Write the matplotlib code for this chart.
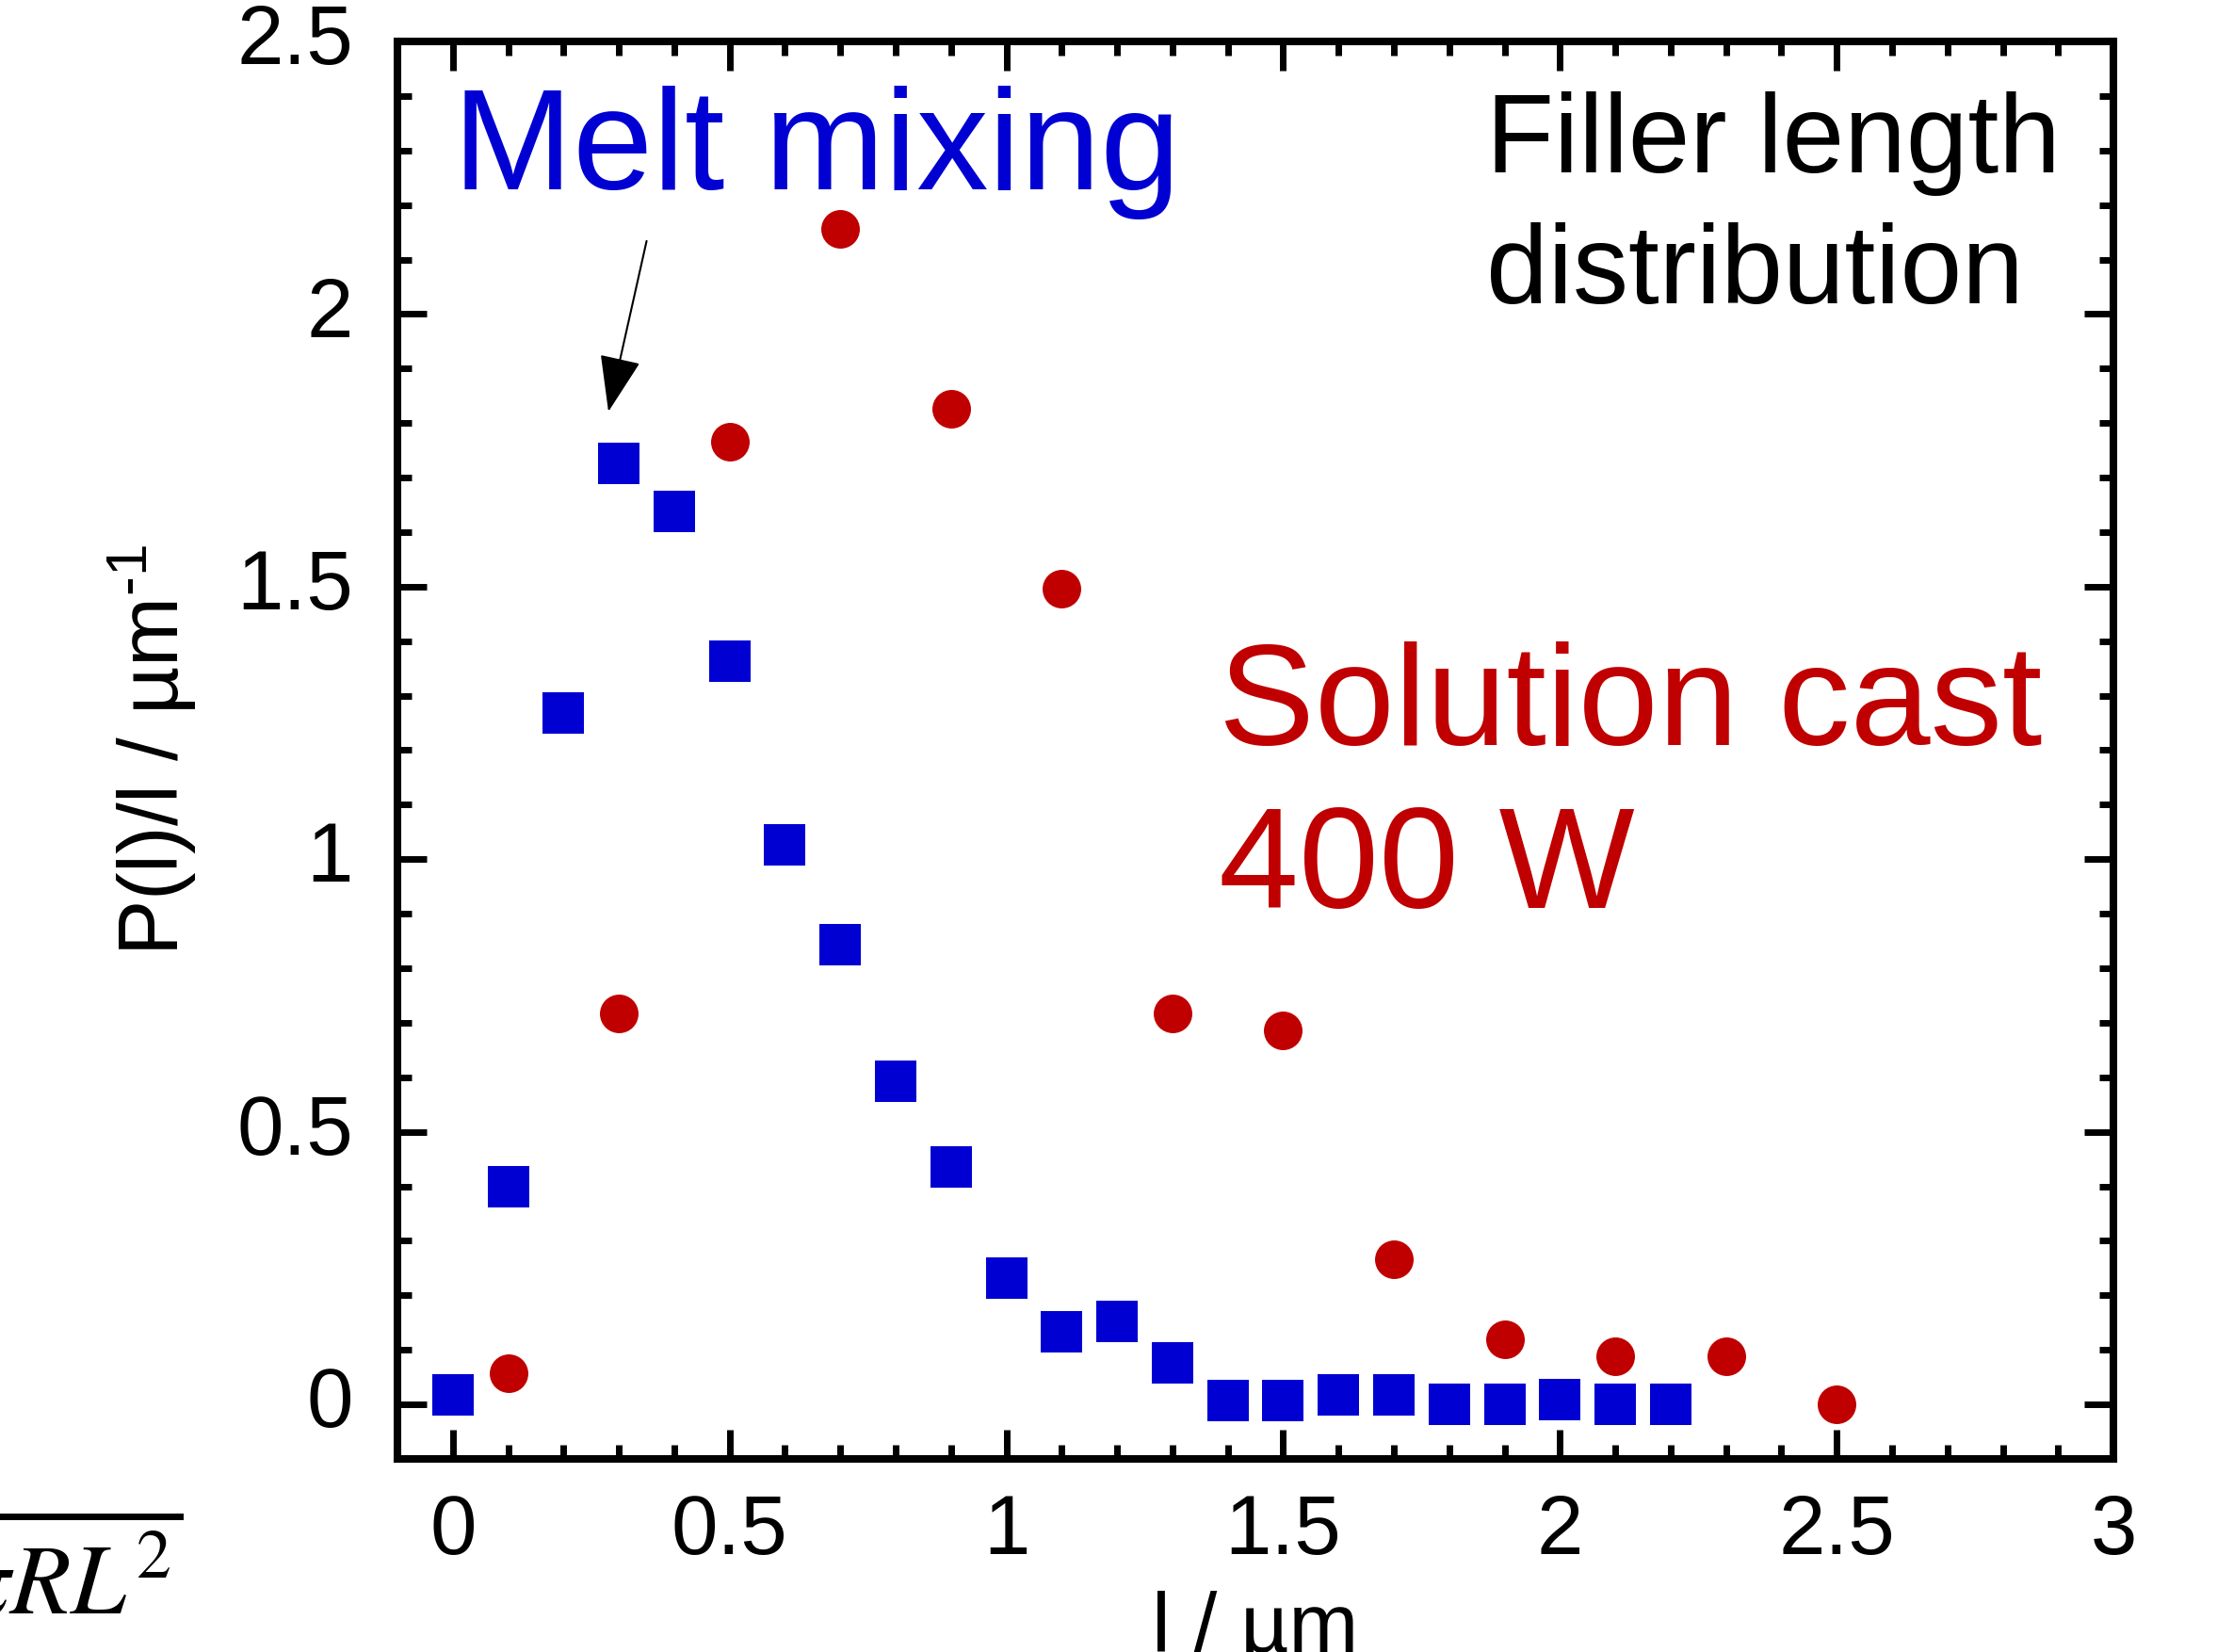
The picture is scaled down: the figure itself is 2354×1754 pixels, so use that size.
import numpy as np
import matplotlib
matplotlib.use('Agg')
import matplotlib.pyplot as plt
from matplotlib.ticker import MultipleLocator, FuncFormatter
from matplotlib.lines import Line2D
from matplotlib.transforms import ScaledTranslation

plt.rcParams['font.family'] = ['Liberation Sans', 'DejaVu Sans']
plt.rcParams['mathtext.fontset'] = 'custom'
plt.rcParams['mathtext.rm'] = 'Liberation Sans'
plt.rcParams['mathtext.it'] = 'Liberation Sans:italic'

# melt mixing (blue squares)
melt_l = [0.0, 0.1, 0.2, 0.3, 0.4, 0.5, 0.6, 0.7, 0.8, 0.9, 1.0, 1.1,
          1.2, 1.3, 1.4, 1.5, 1.6, 1.7, 1.8, 1.9, 2.0, 2.1, 2.2]
melt_p = [0.017, 0.40, 1.268, 1.726, 1.638, 1.364, 1.027, 0.844, 0.593,
          0.435, 0.231, 0.134, 0.153, 0.076, 0.007, 0.007, 0.017, 0.017,
          0.0, 0.0, 0.008, 0.0, 0.0]

# solution cast 400 W (red circles)
cast_l = [0.1, 0.3, 0.5, 0.7, 0.9, 1.1, 1.3, 1.5, 1.7, 1.9, 2.1, 2.3, 2.5]
cast_p = [0.057, 0.717, 1.765, 2.156, 1.827, 1.496, 0.717, 0.686, 0.266,
          0.119, 0.088, 0.088, 0.0]

blue = '#0000D2'
red = '#C00000'

fig = plt.figure(figsize=(23.54, 17.54), dpi=100)
ax = fig.add_axes([0.1793, 0.1169, 0.7740, 0.8580])

ax.plot(melt_l, melt_p, 's', color=blue, ms=31, mew=0, ls='none')
ax.plot(cast_l, cast_p, 'o', color=red, ms=29.5, mew=0, ls='none')

ax.set_xlim(-0.1, 3)
ax.set_ylim(-0.1, 2.5)

ax.xaxis.set_major_locator(MultipleLocator(0.5))
ax.xaxis.set_minor_locator(MultipleLocator(0.1))
ax.yaxis.set_major_locator(MultipleLocator(0.5))
ax.yaxis.set_minor_locator(MultipleLocator(0.1))
fmt = FuncFormatter(lambda v, p: '%g' % round(v, 2))
ax.xaxis.set_major_formatter(fmt)
ax.yaxis.set_major_formatter(fmt)

for s in ax.spines.values():
    s.set_linewidth(5.8)
ax.tick_params(which='both', direction='in', top=True, right=True, width=5)
ax.tick_params(which='major', length=22)
ax.tick_params(which='minor', length=11)
ax.tick_params(axis='x', which='major', labelsize=64, pad=26)
ax.tick_params(axis='y', which='major', labelsize=64, pad=34)

# y tick labels sit a little above their ticks in the original
off = ScaledTranslation(0, 6 / 72, fig.dpi_scale_trans)
for lab in ax.get_yticklabels():
    lab.set_transform(lab.get_transform() + off)

ax.set_xlabel('l / µm', fontsize=64)
ax.xaxis.set_label_coords(0.5, -0.093)
ax.set_ylabel(r'P(l)/l / µm$^{\text{-}1}$', fontsize=64)
ax.yaxis.set_label_coords(-0.116, 0.5)

ax.text(0.0, 2.228, 'Melt mixing', color=blue, fontsize=110, va='baseline', ha='left')
ax.text(1.383, 1.209, 'Solution cast', color=red, fontsize=110, va='baseline', ha='left')
ax.text(1.383, 0.910, '400 W', color=red, fontsize=110, va='baseline', ha='left')
ax.text(1.867, 2.260, 'Filler length', color='black', fontsize=85, va='baseline', ha='left')
ax.text(1.867, 2.019, 'distribution', color='black', fontsize=85, va='baseline', ha='left')

ax.annotate('', xy=(0.281, 1.821), xytext=(0.350, 2.134),
            arrowprops=dict(arrowstyle='-|>,head_length=38,head_width=14',
                            mutation_scale=1, color='black', lw=1.5,
                            shrinkA=0, shrinkB=0))

# fragment of a formula cut off at the lower left corner
fig.text(0.0772, 0.0234, r'$\pi R L^2$', fontsize=76, math_fontfamily='stix',
         ha='right', va='baseline')
fig.add_artist(Line2D([0.0, 0.081], [0.0821, 0.0821], transform=fig.transFigure,
                      color='black', lw=5))

fig.savefig('out.png', dpi=100)
